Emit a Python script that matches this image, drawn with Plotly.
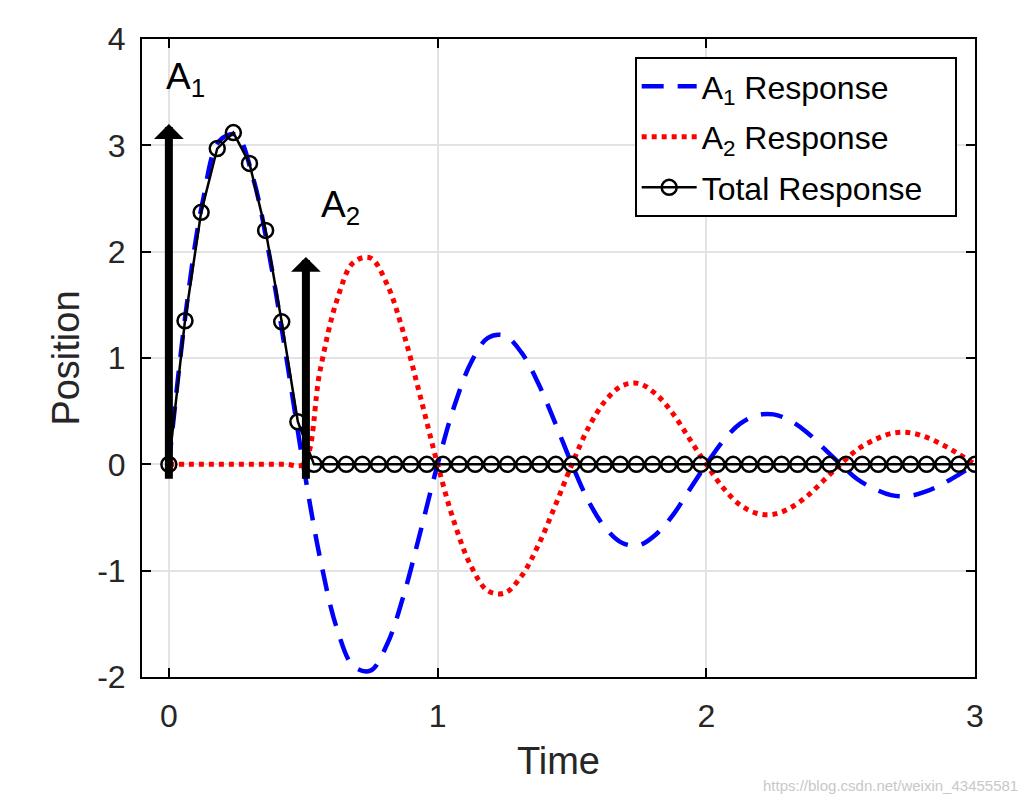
import numpy as np
import plotly.graph_objects as go

# ---- data ----
time_fine = np.arange(0, 3.0001, 0.0625)
a1_response = [0, 1.42, 2.46, 3.04, 3.10, 2.70, 1.95, 1.00, 0,
               -0.88, -1.54, -1.90, -1.94, -1.69, -1.22, -0.62, 0,
               0.55, 0.96, 1.19, 1.21, 1.05, 0.76, 0.39, 0,
               -0.35, -0.60, -0.74, -0.76, -0.66, -0.48, -0.24, 0,
               0.22, 0.38, 0.46, 0.47, 0.41, 0.30, 0.15, 0,
               -0.14, -0.23, -0.29, -0.30, -0.26, -0.19, -0.10, 0]
a2_response = [0, 0, 0, 0, 0, 0, 0, 0, 0,
               0.88, 1.54, 1.90, 1.94, 1.69, 1.22, 0.62, 0,
               -0.55, -0.96, -1.19, -1.21, -1.05, -0.76, -0.39, 0,
               0.35, 0.60, 0.74, 0.76, 0.66, 0.48, 0.24, 0,
               -0.22, -0.38, -0.46, -0.47, -0.41, -0.30, -0.15, 0,
               0.14, 0.23, 0.29, 0.30, 0.26, 0.19, 0.10, 0]
time_total = np.round(np.arange(0, 3.0001, 0.06), 2)
total_response = [0, 1.35, 2.37, 2.97, 3.12, 2.83, 2.20, 1.34, 0.40] + [0] * 42

impulse_times = [0, 0.51]
impulse_heights = [3.2, 1.95]
impulse_labels = ["A<sub>1</sub>", "A<sub>2</sub>"]
label_pos = [(-0.02, 3.62), (0.56, 2.42)]

x_ticks = [0, 1, 2, 3]
y_ticks = [-2, -1, 0, 1, 2, 3, 4]

FONT = "Liberation Sans, Arial, Helvetica, sans-serif"
TXT = "#262626"
NB = "\u00a0"

fig = go.Figure()
fig.add_trace(go.Scatter(
    x=time_fine, y=a1_response, mode="lines", name="A<sub>1</sub> Response",
    legendgroup="g1",
    line=dict(color="#0000ff", width=4.5, dash="22px,14px", shape="spline")))
fig.add_trace(go.Scatter(
    x=time_fine, y=a2_response, mode="lines", name="A<sub>2</sub> Response",
    legendgroup="g2",
    line=dict(color="#ff0000", width=5, dash="5px,5px", shape="spline")))
fig.add_trace(go.Scatter(
    x=time_total, y=total_response, mode="lines+markers",
    name="Total Response" + NB * 3, legendgroup="g3",
    line=dict(color="black", width=2.5),
    marker=dict(symbol="circle-open", size=15, color="black", line=dict(width=2.5))))

for t, h in zip(impulse_times, impulse_heights):
    fig.add_annotation(x=t, y=h, ax=t, ay=-0.15, xref="x", yref="y",
                       axref="x", ayref="y", text="", showarrow=True,
                       arrowhead=1, arrowwidth=8, arrowsize=0.62,
                       arrowcolor="black", standoff=0, startstandoff=0)

for lab, (lx, ly) in zip(impulse_labels, label_pos):
    fig.add_annotation(x=lx, y=ly, xref="x", yref="y", text=lab,
                       showarrow=False, xanchor="left", yanchor="middle",
                       font=dict(family=FONT, size=37, color="black"))

fig.add_annotation(x=1.0, y=0.0, xref="paper", yref="paper",
                   xshift=45, yshift=-108,
                   xanchor="right", yanchor="middle",
                   text="https://blog.csdn.net/weixin_43455581",
                   showarrow=False, font=dict(family=FONT, size=15, color="#c8c8c8"))

axis_common = dict(showline=True, linecolor="black", linewidth=2, mirror="ticks",
                   ticks="inside", ticklen=9, tickwidth=2, tickcolor="black",
                   showgrid=True, gridcolor="#e3e3e3", gridwidth=1.5,
                   zeroline=False, tickfont=dict(family=FONT, size=32, color=TXT))

fig.update_xaxes(range=[-0.1, 3.0], tickvals=x_ticks, ticktext=[str(v) for v in x_ticks],
                 title=dict(text="Time", font=dict(family=FONT, size=38, color=TXT), standoff=14),
                 ticklabelstandoff=10, **axis_common)
fig.update_yaxes(range=[-2, 4], tickvals=y_ticks, ticktext=[str(v) for v in y_ticks],
                 title=dict(text="Position", font=dict(family=FONT, size=38, color=TXT), standoff=6),
                 ticklabelstandoff=8, **axis_common)

fig.update_layout(
    width=1026, height=802,
    margin=dict(l=134, r=59, t=31, b=133),
    paper_bgcolor="white", plot_bgcolor="white",
    font=dict(family=FONT, color=TXT),
    legend=dict(x=0.978, y=0.972, xanchor="right", yanchor="top",
                bgcolor="white", bordercolor="black", borderwidth=2,
                font=dict(family=FONT, size=32, color="black"),
                itemwidth=55, tracegroupgap=6),
    showlegend=True,
)

fig.write_html("out.html")
